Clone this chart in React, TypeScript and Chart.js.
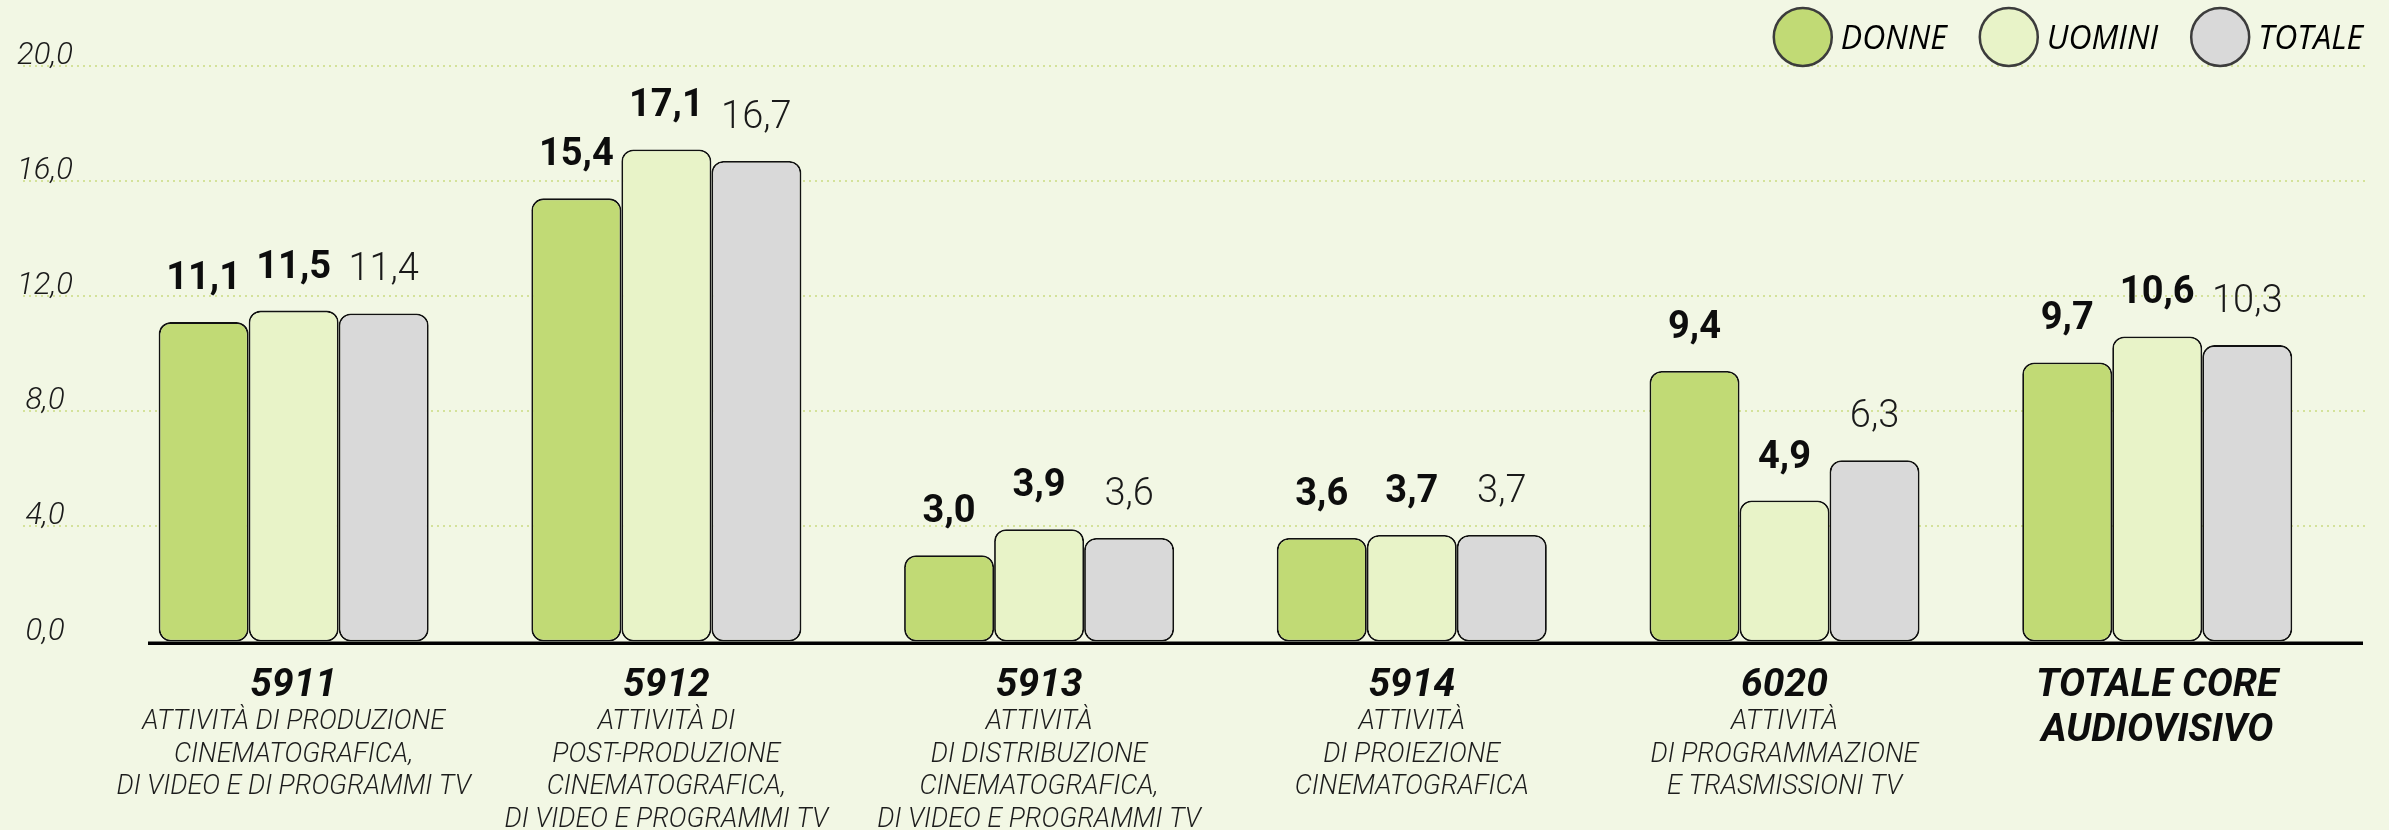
import React, { useEffect, useRef } from 'react';
import { Chart, registerables } from 'chart.js';

Chart.register(...registerables);

const W = 2389;
const H = 830;
const BG = 'rgb(242,247,228)';

// ---- data ----
const categories = ['5911', '5912', '5913', '5914', '6020', 'TOTALE CORE AUDIOVISIVO'];
const categoryTitles: string[][] = [
  ['5911'],
  ['5912'],
  ['5913'],
  ['5914'],
  ['6020'],
  ['TOTALE CORE', 'AUDIOVISIVO'],
];
const categoryDescriptions: string[][] = [
  ['ATTIVITÀ DI PRODUZIONE', 'CINEMATOGRAFICA,', 'DI VIDEO E DI PROGRAMMI TV'],
  ['ATTIVITÀ DI', 'POST-PRODUZIONE', 'CINEMATOGRAFICA,', 'DI VIDEO E PROGRAMMI TV'],
  ['ATTIVITÀ', 'DI DISTRIBUZIONE', 'CINEMATOGRAFICA,', 'DI VIDEO E PROGRAMMI TV'],
  ['ATTIVITÀ', 'DI PROIEZIONE', 'CINEMATOGRAFICA'],
  ['ATTIVITÀ', 'DI PROGRAMMAZIONE', 'E TRASMISSIONI TV'],
  [],
];
const seriesNames = ['DONNE', 'UOMINI', 'TOTALE'];
const donne = [11.1, 15.4, 3.0, 3.6, 9.4, 9.7];
const uomini = [11.5, 17.1, 3.9, 3.7, 4.9, 10.6];
const totale = [11.4, 16.7, 3.6, 3.7, 6.3, 10.3];
const yTickValues = [0, 4, 8, 12, 16, 20];
const yTickLabels = ['0,0', '4,0', '8,0', '12,0', '16,0', '20,0'];

// ---- styles ----
const seriesColors = ['#c1da75', '#e8f3c8', '#d9d9d9'];
const fmt = (v: number) => v.toFixed(1).replace('.', ',');

const decorPlugin = {
  id: 'decor',
  beforeDatasetsDraw(chart: any) {
    const ctx: CanvasRenderingContext2D = chart.ctx;
    const y = chart.scales.y;
    ctx.save();
    ctx.strokeStyle = '#d4e29a';
    ctx.lineWidth = 2;
    ctx.setLineDash([2, 4]);
    yTickValues.forEach((v) => {
      if (v === 0) return;
      const py = Math.round(y.getPixelForValue(v));
      ctx.beginPath();
      ctx.moveTo(23, py);
      ctx.lineTo(2366, py);
      ctx.stroke();
    });
    ctx.setLineDash([]);
    ctx.font = 'italic 300 31px Roboto';
    ctx.fillStyle = '#1a1a1a';
    ctx.textAlign = 'center';
    ctx.textBaseline = 'alphabetic';
    yTickValues.forEach((v, i) => {
      ctx.fillText(yTickLabels[i], 45, y.getPixelForValue(v) - 2);
    });
    ctx.restore();
  },
  afterDatasetsDraw(chart: any) {
    const ctx: CanvasRenderingContext2D = chart.ctx;
    const x = chart.scales.x;
    const y = chart.scales.y;
    ctx.save();
    // axis line
    const y0 = y.getPixelForValue(0);
    ctx.fillStyle = '#000';
    ctx.fillRect(148, y0, 2363 - 148, 3.5);

    // value labels
    ctx.textAlign = 'center';
    ctx.textBaseline = 'alphabetic';
    chart.data.datasets.forEach((ds: any, di: number) => {
      const meta = chart.getDatasetMeta(di);
      ctx.font = di < 2 ? 'bold 38px Roboto' : '300 38px Roboto';
      ctx.fillStyle = di < 2 ? '#0d0d0d' : '#1a1a1a';
      meta.data.forEach((bar: any, j: number) => {
        ctx.fillText(fmt(ds.data[j]), bar.x, bar.y - 33);
      });
    });

    // category labels
    categories.forEach((_, j) => {
      const cx = x.getPixelForValue(j);
      ctx.font = 'italic bold 39px Roboto';
      ctx.fillStyle = '#0d0d0d';
      categoryTitles[j].forEach((t, k) => ctx.fillText(t, cx, 696 + 45 * k));
      ctx.font = 'italic 300 27px Roboto';
      ctx.fillStyle = '#1c1c1c';
      categoryDescriptions[j].forEach((t, k) => ctx.fillText(t, cx, 729 + 32.7 * k));
    });

    // legend
    ctx.font = 'italic 32px "Open Sans"';
    ctx.textAlign = 'left';
    const r = 29;
    let cursor = 2363;
    for (let i = seriesNames.length - 1; i >= 0; i--) {
      const tw = ctx.measureText(seriesNames[i]).width;
      const tl = cursor - tw;
      const cx = tl - 9 - r;
      ctx.beginPath();
      ctx.ellipse(cx, 37, r, r, 0, 0, Math.PI * 2);
      ctx.fillStyle = seriesColors[i];
      ctx.fill();
      ctx.lineWidth = 2.5;
      ctx.strokeStyle = '#3c3c3c';
      ctx.stroke();
      ctx.fillStyle = '#000';
      ctx.fillText(seriesNames[i], tl, 49);
      cursor = cx - r - 33;
    }
    ctx.restore();
  },
};

export default function App() {
  const ref = useRef<HTMLCanvasElement>(null);
  useEffect(() => {
    document.body.style.margin = '0';
    const datasetsData = [donne, uomini, totale];
    const chart = new Chart(ref.current as HTMLCanvasElement, {
      type: 'bar',
      data: {
        labels: categories,
        datasets: seriesNames.map((name, i) => ({
          label: name,
          data: datasetsData[i],
          backgroundColor: seriesColors[i],
          borderColor: '#111111',
          borderWidth: 1.8,
          borderRadius: 12,
          borderSkipped: false,
          categoryPercentage: 0.7245,
          barPercentage: 1,
        })),
      },
      options: {
        responsive: false,
        animation: false,
        layout: { padding: { left: 107.3, right: 45.4, top: 66, bottom: 188.5 } },
        plugins: {
          legend: { display: false },
          tooltip: { enabled: false },
        },
        scales: {
          x: { display: false, offset: true },
          y: { display: false, min: 0, max: 20 },
        },
      },
      plugins: [decorPlugin],
    } as any);
    return () => chart.destroy();
  }, []);
  return (
    <div style={{ position: 'absolute', left: 0, top: 0, width: W, height: H, background: BG }}>
      <canvas ref={ref} width={W} height={H} style={{ display: 'block', width: W, height: H }} />
    </div>
  );
}
